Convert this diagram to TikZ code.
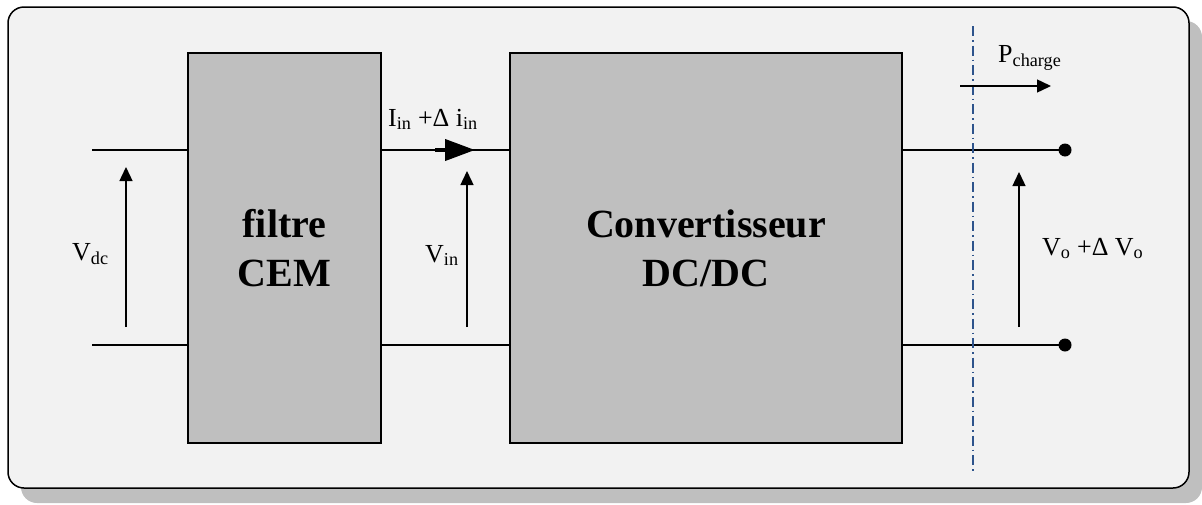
\documentclass[tikz,border=0pt]{standalone}
\usepackage{fontspec}
\setmainfont{Liberation Serif}
\usetikzlibrary{arrows.meta,calc}

\definecolor{framefill}{RGB}{242,242,242}
\definecolor{boxfill}{RGB}{191,191,191}
\definecolor{axisblue}{RGB}{46,84,140}

\tikzset{
  blockbox/.style={draw=black,line width=1.2pt,fill=boxfill,align=center,
    font=\bfseries\fontsize{40}{49}\selectfont},
  wire/.style={line width=2.2pt},
  volt/.style={line width=1.4pt,-{Triangle[length=14pt,width=13pt]}},
  lbl/.style={font=\fontsize{26}{30}\selectfont,inner sep=0pt,anchor=base west},
}

\begin{document}
\begin{tikzpicture}[x=1pt,y=-1pt]
	\useasboundingbox (0,0) rectangle (1202,504);
	% frame and shadow
	\fill[boxfill,rounded corners=16pt] (21,21) rectangle (1202,503);
	\draw[line width=1.5pt,fill=framefill,rounded corners=16pt] (8,7) rectangle (1189,488);

	% blocks
	\node[blockbox,minimum width=193pt,minimum height=390pt] (filtre) at (284.5,248) {filtre\\CEM};
	\node[blockbox,minimum width=392pt,minimum height=390pt] (conv) at (706,248) {Convertisseur\\DC/DC};

	% terminals
	\coordinate (inTop) at (92,150);
	\coordinate (inBot) at (92,345);
	\coordinate (outTop) at (1065,150);
	\coordinate (outBot) at (1065,345);

	% wires
	\draw[wire] (inTop) -- (inTop -| filtre.west);
	\draw[wire] (inBot) -- (inBot -| filtre.west);
	\draw[wire] (inTop -| filtre.east) -- (inTop -| conv.west);
	\draw[wire] (inBot -| filtre.east) -- (inBot -| conv.west);
	\draw[wire] (inTop -| conv.east) -- (outTop);
	\draw[wire] (inBot -| conv.east) -- (outBot);
	\fill (outTop) circle (6.5pt);
	\fill (outBot) circle (6.5pt);

	% current arrow
	\coordinate (iA) at (435,150);
	\coordinate (iB) at (475,150);
	\draw[line width=4pt,-{Triangle[length=30pt,width=21pt]}] (iA) -- (iB);
	\node[lbl] (iin) at (388,126) {I\textsubscript{in} +Δ i\textsubscript{in}};

	% voltage arrows
	\coordinate (vdcA) at (126,327);
	\coordinate (vdcB) at (126,167);
	\draw[volt] (vdcA) -- (vdcB);
	\node[lbl] (vdc) at (72,260) {V\textsubscript{dc}};

	\coordinate (vinA) at (467,327);
	\coordinate (vinB) at (467,171);
	\draw[volt] (vinA) -- (vinB);
	\node[lbl] (vin) at (425,262) {V\textsubscript{in}};

	\coordinate (voA) at (1019,327);
	\coordinate (voB) at (1019,172);
	\draw[volt] (voA) -- (voB);
	\node[lbl] (vo) at (1042,255) {V\textsubscript{o} +Δ V\textsubscript{o}};

	% load side
	\coordinate (cutA) at (973,26);
	\coordinate (cutB) at (973,472);
	\draw[axisblue,line width=1.1pt,dash pattern=on 10pt off 4pt on 1.5pt off 4pt] (cutA) -- (cutB);
	\coordinate (pA) at (960,86);
	\coordinate (pB) at (1051,86);
	\draw[volt] (pA) -- (pB);
	\node[lbl] (pch) at (998,62) {P\textsubscript{charge}};
\end{tikzpicture}
\end{document}
